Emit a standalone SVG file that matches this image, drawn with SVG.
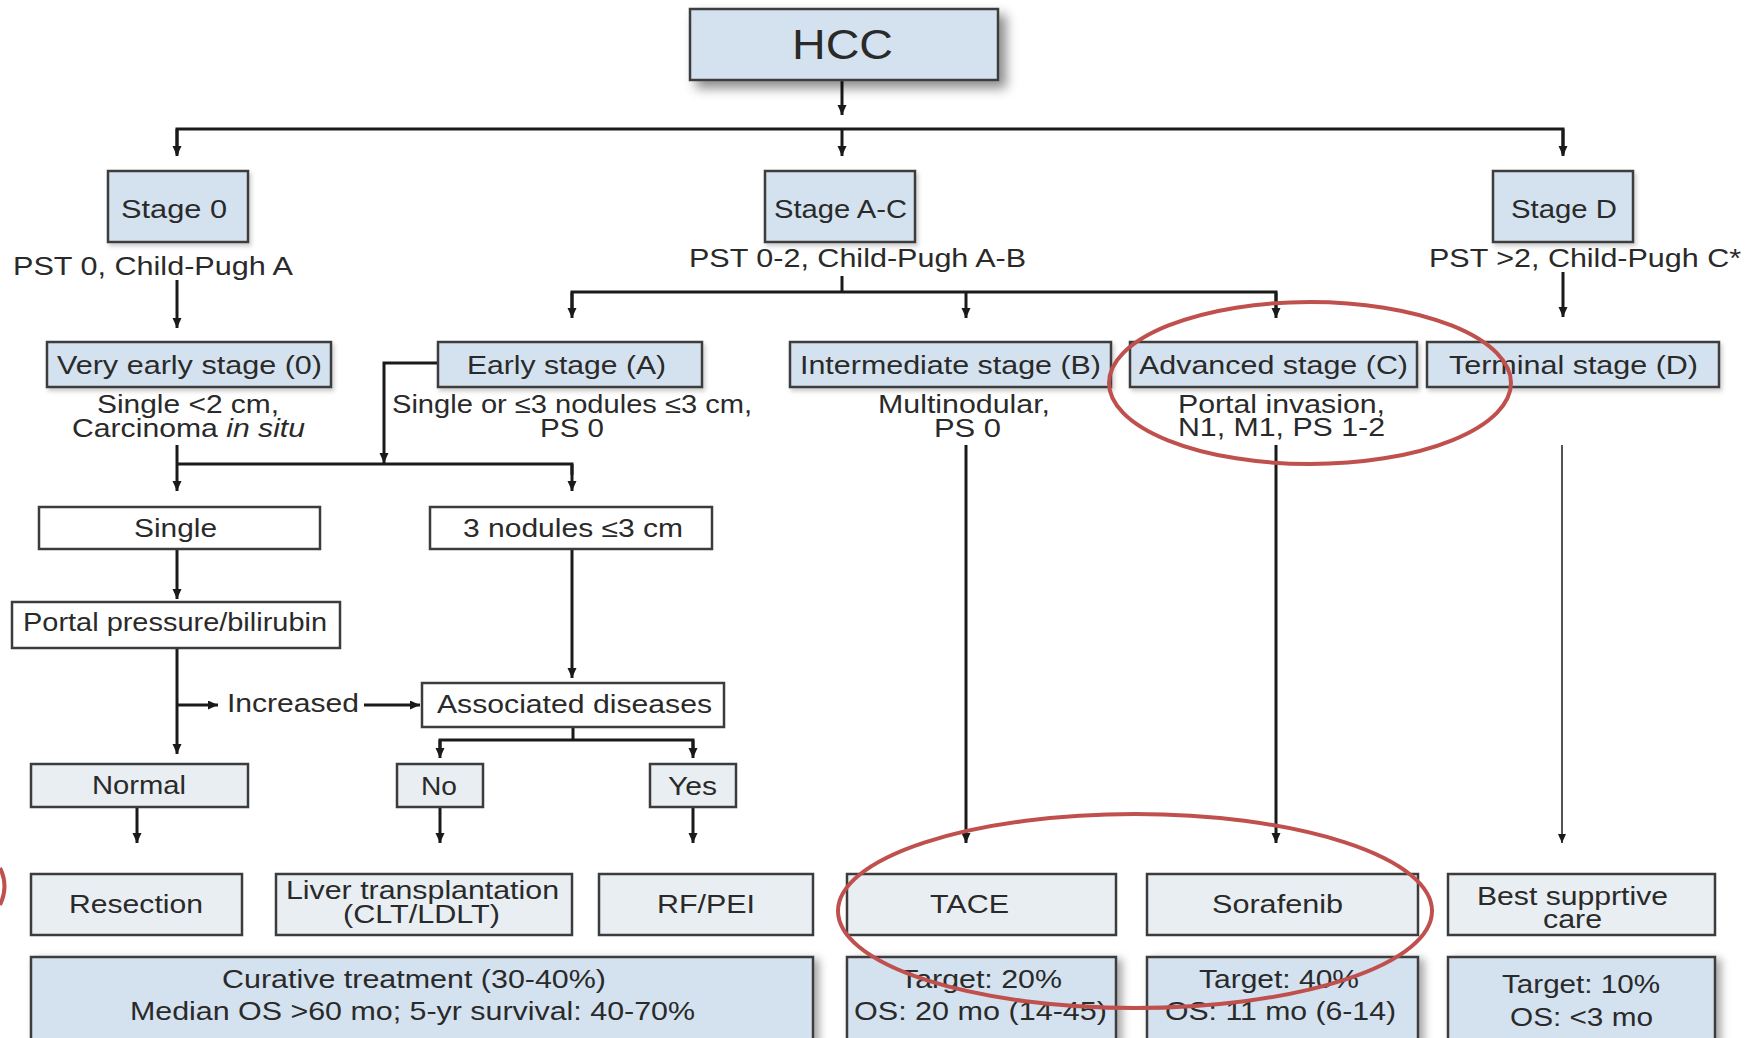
<svg xmlns="http://www.w3.org/2000/svg" width="1754" height="1038" viewBox="0 0 1754 1038">
<defs>
  <filter id="sh" x="-10%" y="-10%" width="130%" height="140%">
    <feDropShadow dx="7" dy="7" stdDeviation="6" flood-color="#000" flood-opacity="0.45"/>
  </filter>
  <filter id="sh2" x="-10%" y="-10%" width="130%" height="140%">
    <feDropShadow dx="5" dy="3" stdDeviation="4" flood-color="#000" flood-opacity="0.35"/>
  </filter>
  <filter id="sh3" x="-5%" y="-10%" width="115%" height="140%">
    <feDropShadow dx="2" dy="3" stdDeviation="2" flood-color="#000" flood-opacity="0.2"/>
  </filter>
  <marker id="ah" markerUnits="userSpaceOnUse" markerWidth="10" markerHeight="11" refX="10" refY="4.5" orient="auto">
    <path d="M0,0 L10,4.5 L0,9 Z" fill="#1a1a1a"/>
  </marker>
  <marker id="ahs" markerUnits="userSpaceOnUse" markerWidth="9" markerHeight="9" refX="9" refY="4" orient="auto">
    <path d="M0,0 L9,4 L0,8 Z" fill="#1a1a1a"/>
  </marker>
</defs>
<style>
  text { font-family: "Liberation Sans", Arial, sans-serif; font-size: 25px; fill: #2a2a2a; text-anchor: middle; }
  .blue { fill: #d4e2f0; stroke: #3c3c3c; stroke-width: 2.5; }
  .white { fill: #ffffff; stroke: #3c3c3c; stroke-width: 2.5; }
  .light { fill: #e9eef3; stroke: #3c3c3c; stroke-width: 2.5; }
  .ln { fill: none; stroke: #1a1a1a; stroke-width: 3; }
  .arr { fill: none; stroke: #1a1a1a; stroke-width: 3; marker-end: url(#ah); }
  .thin { fill: none; stroke: #1a1a1a; stroke-width: 1.5; marker-end: url(#ahs); }
  .red { fill: none; stroke: #c0504d; stroke-width: 4; }
</style>
<rect width="1754" height="1038" fill="#ffffff"/>

<g id="connectors">
  <line class="arr" x1="842" y1="80" x2="842" y2="115"/>
  <polyline class="ln" points="177,154 177,129 1563,129 1563,154"/>
  <line class="arr" x1="177" y1="129" x2="177" y2="156"/>
  <line class="arr" x1="842" y1="129" x2="842" y2="156"/>
  <line class="arr" x1="1563" y1="129" x2="1563" y2="156"/>

  <line class="arr" x1="177" y1="280" x2="177" y2="328"/>
  <line class="ln" x1="842" y1="276" x2="842" y2="292"/>
  <polyline class="ln" points="572,310 572,292 1276,292 1276,310"/>
  <line class="arr" x1="572" y1="292" x2="572" y2="318"/>
  <line class="arr" x1="966" y1="292" x2="966" y2="318"/>
  <line class="arr" x1="1276" y1="292" x2="1276" y2="318"/>
  <line class="arr" x1="1563" y1="272" x2="1563" y2="317"/>

  <polyline class="arr" points="438,363 384,363 384,463"/>
  <line class="ln" x1="177" y1="445" x2="177" y2="464"/>
  <polyline class="ln" points="177,464 572,464 572,475"/>
  <line class="arr" x1="177" y1="464" x2="177" y2="491"/>
  <line class="arr" x1="572" y1="464" x2="572" y2="491"/>

  <line class="arr" x1="177" y1="549" x2="177" y2="599"/>
  <line class="arr" x1="572" y1="549" x2="572" y2="678"/>
  <line class="arr" x1="177" y1="648" x2="177" y2="754"/>
  <line class="arr" x1="177" y1="705" x2="218" y2="705"/>
  <line class="arr" x1="364" y1="705" x2="420" y2="705"/>

  <line class="ln" x1="573" y1="727" x2="573" y2="740"/>
  <polyline class="ln" points="440,750 440,740 693,740 693,750"/>
  <line class="arr" x1="440" y1="740" x2="440" y2="758"/>
  <line class="arr" x1="693" y1="740" x2="693" y2="758"/>

  <line class="arr" x1="137" y1="807" x2="137" y2="843"/>
  <line class="arr" x1="440" y1="807" x2="440" y2="843"/>
  <line class="arr" x1="693" y1="807" x2="693" y2="843"/>

  <line class="arr" x1="966" y1="445" x2="966" y2="843"/>
  <line class="arr" x1="1276" y1="445" x2="1276" y2="843"/>
  <line class="thin" x1="1562" y1="445" x2="1562" y2="843"/>
</g>

<g id="n-hcc"><rect class="blue" x="690" y="9" width="308" height="71" filter="url(#sh)"/><text x="842.5" y="59" style="font-size:42px" textLength="101" lengthAdjust="spacingAndGlyphs">HCC</text></g>

<g id="n-stage0"><rect class="blue" x="108" y="171" width="140" height="71" filter="url(#sh3)"/><text x="174" y="218" textLength="106" lengthAdjust="spacingAndGlyphs">Stage 0</text></g>
<g id="n-stageac"><rect class="blue" x="765" y="171" width="150" height="71" filter="url(#sh3)"/><text x="840.5" y="218" textLength="133" lengthAdjust="spacingAndGlyphs">Stage A-C</text></g>
<g id="n-staged"><rect class="blue" x="1493" y="171" width="140" height="71" filter="url(#sh3)"/><text x="1564" y="218" textLength="106" lengthAdjust="spacingAndGlyphs">Stage D</text></g>

<g id="t-pst0"><text x="153" y="275" textLength="280" lengthAdjust="spacingAndGlyphs">PST 0, Child-Pugh A</text></g>
<g id="t-pst02"><text x="857.5" y="267" textLength="337" lengthAdjust="spacingAndGlyphs">PST 0-2, Child-Pugh A-B</text></g>
<g id="t-pst2"><text x="1585" y="267" textLength="312" lengthAdjust="spacingAndGlyphs">PST &gt;2, Child-Pugh C*</text></g>

<g id="n-veryearly"><rect class="blue" x="47" y="342" width="284" height="45" filter="url(#sh3)"/><text x="189.5" y="374" textLength="265" lengthAdjust="spacingAndGlyphs">Very early stage (0)</text>
  <text x="188" y="413" textLength="182" lengthAdjust="spacingAndGlyphs">Single &lt;2 cm,</text>
  <text x="188.5" y="437" textLength="233" lengthAdjust="spacingAndGlyphs">Carcinoma <tspan font-style="italic">in situ</tspan></text></g>
<g id="n-early"><rect class="blue" x="438" y="342" width="264" height="45" filter="url(#sh3)"/><text x="566.5" y="374" textLength="199" lengthAdjust="spacingAndGlyphs">Early stage (A)</text>
  <text x="572" y="413" textLength="360" lengthAdjust="spacingAndGlyphs">Single or ≤3 nodules ≤3 cm,</text>
  <text x="572" y="437" textLength="64" lengthAdjust="spacingAndGlyphs">PS 0</text></g>
<g id="n-intermediate"><rect class="blue" x="790" y="342" width="321" height="45" filter="url(#sh3)"/><text x="950.5" y="374" textLength="301" lengthAdjust="spacingAndGlyphs">Intermediate stage (B)</text>
  <text x="964" y="413" textLength="172" lengthAdjust="spacingAndGlyphs">Multinodular,</text>
  <text x="967.5" y="437" textLength="67" lengthAdjust="spacingAndGlyphs">PS 0</text></g>
<g id="n-advanced"><rect class="blue" x="1130" y="342" width="287" height="45" filter="url(#sh3)"/><text x="1273.5" y="374" textLength="269" lengthAdjust="spacingAndGlyphs">Advanced stage (C)</text>
  <text x="1281.5" y="413" textLength="207" lengthAdjust="spacingAndGlyphs">Portal invasion,</text>
  <text x="1281.5" y="436" textLength="207" lengthAdjust="spacingAndGlyphs">N1, M1, PS 1-2</text></g>
<g id="n-terminal"><rect class="blue" x="1427" y="342" width="292" height="45" filter="url(#sh3)"/><text x="1573.5" y="374" textLength="249" lengthAdjust="spacingAndGlyphs">Terminal stage (D)</text></g>

<g id="n-single"><rect class="white" x="39" y="507" width="281" height="42"/><text x="175.5" y="537" textLength="83" lengthAdjust="spacingAndGlyphs">Single</text></g>
<g id="n-3nodules"><rect class="white" x="430" y="507" width="282" height="42"/><text x="573" y="537" textLength="220" lengthAdjust="spacingAndGlyphs">3 nodules ≤3 cm</text></g>
<g id="n-portal"><rect class="white" x="12" y="602" width="328" height="46"/><text x="175" y="631" textLength="304" lengthAdjust="spacingAndGlyphs">Portal pressure/bilirubin</text></g>
<g id="t-increased"><text x="293" y="712" textLength="132" lengthAdjust="spacingAndGlyphs">Increased</text></g>
<g id="n-associated"><rect class="white" x="422" y="683" width="302" height="44"/><text x="574.5" y="713" textLength="275" lengthAdjust="spacingAndGlyphs">Associated diseases</text></g>

<g id="n-normal"><rect class="light" x="31" y="764" width="217" height="43"/><text x="139" y="794" textLength="94" lengthAdjust="spacingAndGlyphs">Normal</text></g>
<g id="n-no"><rect class="light" x="397" y="764" width="86" height="43"/><text x="439" y="795" textLength="36" lengthAdjust="spacingAndGlyphs">No</text></g>
<g id="n-yes"><rect class="light" x="650" y="764" width="86" height="43"/><text x="692.5" y="795" textLength="49" lengthAdjust="spacingAndGlyphs">Yes</text></g>

<g id="n-resection"><rect class="light" x="31" y="874" width="211" height="61"/><text x="136" y="913" textLength="134" lengthAdjust="spacingAndGlyphs">Resection</text></g>
<g id="n-liver"><rect class="light" x="276" y="874" width="296" height="61"/><text x="422.5" y="899" textLength="273" lengthAdjust="spacingAndGlyphs">Liver transplantation</text><text x="421.5" y="923" textLength="157" lengthAdjust="spacingAndGlyphs">(CLT/LDLT)</text></g>
<g id="n-rfpei"><rect class="light" x="599" y="874" width="214" height="61"/><text x="706" y="913" textLength="98" lengthAdjust="spacingAndGlyphs">RF/PEI</text></g>
<g id="n-tace"><rect class="light" x="847" y="874" width="269" height="61"/><text x="969.5" y="913" textLength="79" lengthAdjust="spacingAndGlyphs">TACE</text></g>
<g id="n-sorafenib"><rect class="light" x="1147" y="874" width="271" height="61"/><text x="1277.5" y="913" textLength="131" lengthAdjust="spacingAndGlyphs">Sorafenib</text></g>
<g id="n-bsc"><rect class="light" x="1448" y="874" width="267" height="61"/><text x="1572.5" y="905" textLength="191" lengthAdjust="spacingAndGlyphs">Best supprtive</text><text x="1572.5" y="928" textLength="59" lengthAdjust="spacingAndGlyphs">care</text></g>

<g id="n-curative"><rect class="blue" x="31" y="957" width="782" height="90" filter="url(#sh2)"/><text x="414" y="988" textLength="384" lengthAdjust="spacingAndGlyphs">Curative treatment (30-40%)</text><text x="412.5" y="1020" textLength="565" lengthAdjust="spacingAndGlyphs">Median OS &gt;60 mo; 5-yr survival: 40-70%</text></g>
<g id="n-tace-out"><rect class="blue" x="847" y="957" width="269" height="90" filter="url(#sh2)"/><text x="981" y="988" textLength="162" lengthAdjust="spacingAndGlyphs">Target: 20%</text><text x="980.5" y="1020" textLength="253" lengthAdjust="spacingAndGlyphs">OS: 20 mo (14-45)</text></g>
<g id="n-sor-out"><rect class="blue" x="1147" y="957" width="271" height="90" filter="url(#sh2)"/><text x="1279" y="988" textLength="160" lengthAdjust="spacingAndGlyphs">Target: 40%</text><text x="1280.5" y="1020" textLength="231" lengthAdjust="spacingAndGlyphs">OS: 11 mo (6-14)</text></g>
<g id="n-bsc-out"><rect class="blue" x="1448" y="957" width="267" height="90" filter="url(#sh2)"/><text x="1581" y="993" textLength="158" lengthAdjust="spacingAndGlyphs">Target: 10%</text><text x="1581.5" y="1026" textLength="143" lengthAdjust="spacingAndGlyphs">OS: &lt;3 mo</text></g>

<g id="annotations">
  <ellipse class="red" cx="1310" cy="383" rx="201" ry="81"/>
  <ellipse class="red" cx="1135" cy="911" rx="297" ry="97"/>
  <path class="red" d="M0,868 Q9,886 0,905" stroke-width="3"/>
</g>
</svg>
